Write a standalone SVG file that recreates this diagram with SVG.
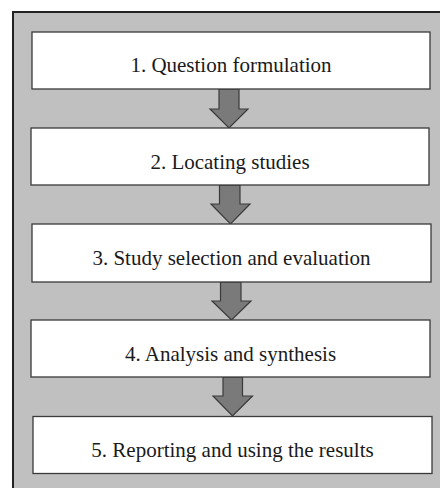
<svg xmlns="http://www.w3.org/2000/svg" width="440" height="488" viewBox="0 0 440 488">
<style>
.box{fill:#ffffff;stroke:#3a3a3a;stroke-width:1.3}
.arr{fill:#7a7a7a;stroke:#3a3a3a;stroke-width:1.2;stroke-linejoin:miter}
.lbl{font-family:"Liberation Serif","DejaVu Serif",serif;font-size:21px;fill:#1a1a1a;text-anchor:middle}
</style>
<rect width="440" height="488" fill="#ffffff"/>
<rect x="13" y="12" width="440" height="490" fill="#c0c0c0" stroke="#222222" stroke-width="2"/>
<g id="connectors">
<path class="arr" d="M219,89 H239 V109 H248 L229,128 L210,109 H219 Z"/>
<path class="arr" d="M219.5,185 H240 V204 H250 L230.5,224 L211,204 H219.5 Z"/>
<path class="arr" d="M220.5,282 H241 V301 H251 L231.5,320 L212,301 H220.5 Z"/>
<path class="arr" d="M223,377 H242.5 V396 H252.5 L232.5,416 L213,396 H223 Z"/>
</g>
<g id="n1"><rect class="box" x="32" y="32" width="398" height="57"/><text class="lbl" x="231" y="72">1. Question formulation</text></g>
<g id="n2"><rect class="box" x="31" y="128" width="398" height="57"/><text class="lbl" x="230" y="169">2. Locating studies</text></g>
<g id="n3"><rect class="box" x="32" y="224" width="399" height="58"/><text class="lbl" x="231.5" y="265">3. Study selection and evaluation</text></g>
<g id="n4"><rect class="box" x="31" y="320" width="399" height="57"/><text class="lbl" x="230.5" y="361">4. Analysis and synthesis</text></g>
<g id="n5"><rect class="box" x="33" y="416.5" width="399" height="57"/><text class="lbl" x="232.5" y="457">5. Reporting and using the results</text></g>
</svg>
